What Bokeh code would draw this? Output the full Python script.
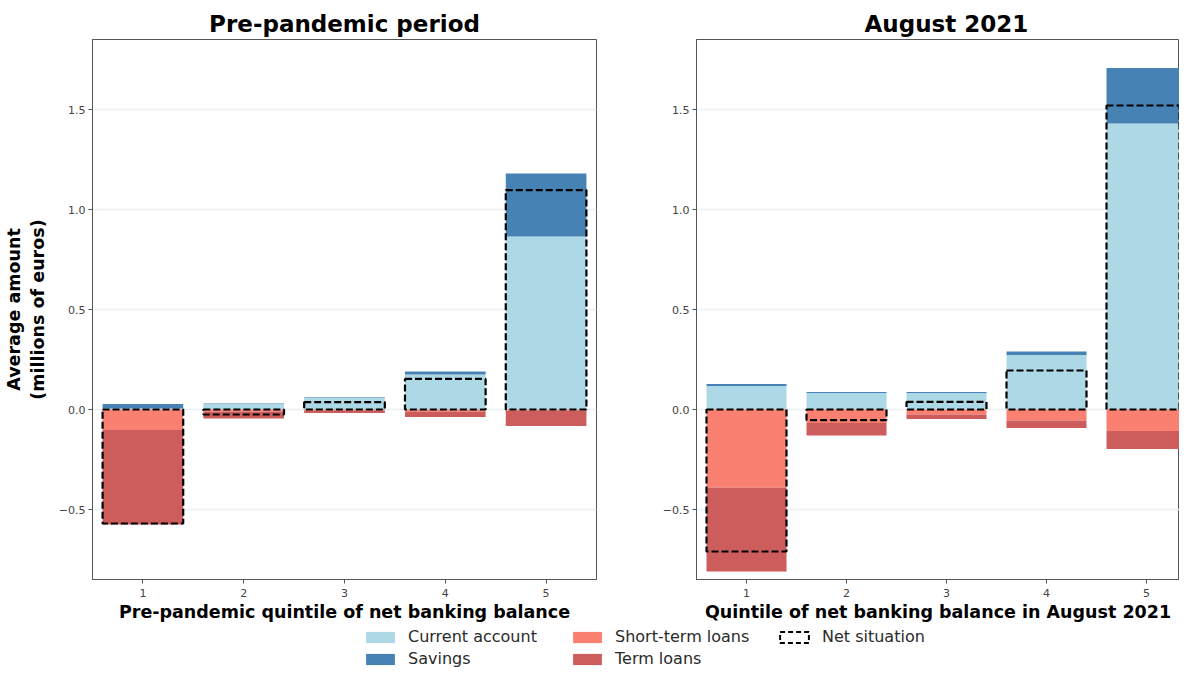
import numpy as np
from bokeh.embed import file_html
from bokeh.resources import INLINE
from bokeh.plotting import figure
from bokeh.layouts import column, row, Spacer
from bokeh.models import (ColumnDataSource, FixedTicker, CustomJSTickFormatter,
                          Legend, LegendItem, Range1d)

quintiles = [1, 2, 3, 4, 5]

# pre-pandemic period (millions of euros)
pre_current = [0.005, 0.028, 0.060, 0.175, 0.865]
pre_savings = [0.023, 0.002, 0.002, 0.015, 0.315]
pre_short = [0.103, 0.010, 0.005, 0.010, 0.005]
pre_term = [0.472, 0.035, 0.012, 0.027, 0.077]
pre_net = [-0.57, -0.025, 0.037, 0.153, 1.097]

# August 2021
aug_current = [0.118, 0.082, 0.082, 0.273, 1.430]
aug_savings = [0.010, 0.005, 0.005, 0.017, 0.278]
aug_short = [0.390, 0.067, 0.025, 0.055, 0.108]
aug_term = [0.420, 0.063, 0.022, 0.038, 0.090]
aug_net = [-0.71, -0.053, 0.038, 0.195, 1.52]

series_names = ["Current account", "Savings", "Short-term loans", "Term loans", "Net situation"]
colors = ["#ADD8E6", "#4682B4", "#FA8072", "#CD5C5C"]
y_ticks = [-0.5, 0.0, 0.5, 1.0, 1.5]

FONT = "DejaVu Sans"


def panel(title, xlabel, ylabel, current, savings, short, term, net,
          border_left, frame_w, border_right, x_end):
    p = figure(title=title, frame_width=frame_w, frame_height=540,
               x_range=Range1d(0.5, x_end), y_range=Range1d(-0.85, 1.85),
               toolbar_location=None, output_backend="svg",
               min_border_left=border_left, min_border_right=border_right,
               min_border_top=20, min_border_bottom=40)
    cur = np.array(current)
    sav = np.array(savings)
    sh = np.array(short)
    te = np.array(term)
    nt = np.array(net)
    src = ColumnDataSource(dict(
        x=quintiles,
        cur_top=cur, sav_top=cur + sav,
        sh_bot=-sh, te_bot=-sh - te,
        net_lo=np.minimum(nt, 0), net_hi=np.maximum(nt, 0),
    ))
    p.vbar(x='x', bottom=0, top='cur_top', width=0.8, source=src,
           fill_color=colors[0], line_color=None)
    p.vbar(x='x', bottom='cur_top', top='sav_top', width=0.8, source=src,
           fill_color=colors[1], line_color=None)
    p.vbar(x='x', bottom=0, top='sh_bot', width=0.8, source=src,
           fill_color=colors[2], line_color=None)
    p.vbar(x='x', bottom='sh_bot', top='te_bot', width=0.8, source=src,
           fill_color=colors[3], line_color=None)
    p.vbar(x='x', bottom='net_lo', top='net_hi', width=0.8, source=src,
           fill_color=None, line_color="black", line_width=2.2, line_dash="7 3")

    p.title.align = "center"
    p.title.text_font = FONT
    p.title.text_font_size = "23px"
    p.title.text_font_style = "bold"
    p.title.text_color = "black"
    p.title.standoff = 5

    p.xgrid.grid_line_color = None
    p.ygrid.grid_line_color = "#e9eff2"
    p.ygrid.grid_line_width = 1.5
    p.outline_line_color = "#555555"
    p.outline_line_width = 1

    p.xaxis.ticker = FixedTicker(ticks=quintiles)
    p.yaxis.ticker = FixedTicker(ticks=y_ticks)
    p.yaxis.formatter = CustomJSTickFormatter(
        code="return tick.toFixed(1).replace('-', '\u2212');")
    for ax in (p.xaxis, p.yaxis):
        ax.axis_line_color = "#555555"
        ax.major_tick_line_color = "#555555"
        ax.major_tick_out = 4
        ax.major_tick_in = 0
        ax.minor_tick_line_color = None
        ax.major_label_text_font = FONT
        ax.major_label_text_font_size = "11px"
        ax.major_label_text_color = "#444444"
        ax.major_label_standoff = 3
        ax.axis_label_text_font = FONT
        ax.axis_label_text_font_size = "17.5px"
        ax.axis_label_text_font_style = "bold"
        ax.axis_label_text_color = "black"
    p.xaxis.major_label_standoff = 5
    p.xaxis.axis_label = xlabel
    p.xaxis.axis_label_standoff = 2
    if ylabel:
        p.yaxis.axis_label = ylabel
        p.yaxis.axis_label_standoff = 8
    return p


p1 = panel("Pre-pandemic period", "Pre-pandemic quintile of net banking balance",
           "Average amount\n(millions of euros)",
           pre_current, pre_savings, pre_short, pre_term, pre_net,
           60, 504, 31, 5.5)
p2 = panel("August 2021", "Quintile of net banking balance in August 2021", None,
           aug_current, aug_savings, aug_short, aug_term, aug_net,
           69, 483, 0, 5.33)
p2.title.align = "left"
p2.title.offset = 168

# legend strip below both panels (proxy glyphs, nothing visible in the plot area)
leg = figure(width=1172, height=44, toolbar_location=None, output_backend="svg",
             x_range=Range1d(0, 1), y_range=Range1d(0, 1), min_border=0)
leg.axis.visible = False
leg.grid.grid_line_color = None
leg.outline_line_color = None
items = []
for name, c in zip(series_names[:4], colors):
    r = leg.vbar(x=[np.nan], top=[np.nan], width=0.8, fill_color=c, line_color=None)
    items.append(LegendItem(label=name, renderers=[r]))
r = leg.vbar(x=[np.nan], top=[np.nan], width=0.8, fill_color=None, line_color="black",
             line_width=2, line_dash="5 3")
items.append(LegendItem(label=series_names[4], renderers=[r]))
legend = Legend(items=items, nrows=2, orientation="vertical",
                location=(362, 0), glyph_width=36, glyph_height=14,
                label_text_font=FONT, label_text_font_size="16px",
                label_text_color="#2a2a2a", label_standoff=10, label_width=158,
                spacing=3, padding=1, margin=0, border_line_color=None,
                background_fill_alpha=0)
leg.add_layout(legend, "center")

layout = column(Spacer(height=6), row(p1, p2), leg)
open("out.html", "w").write(file_html(layout, INLINE))
